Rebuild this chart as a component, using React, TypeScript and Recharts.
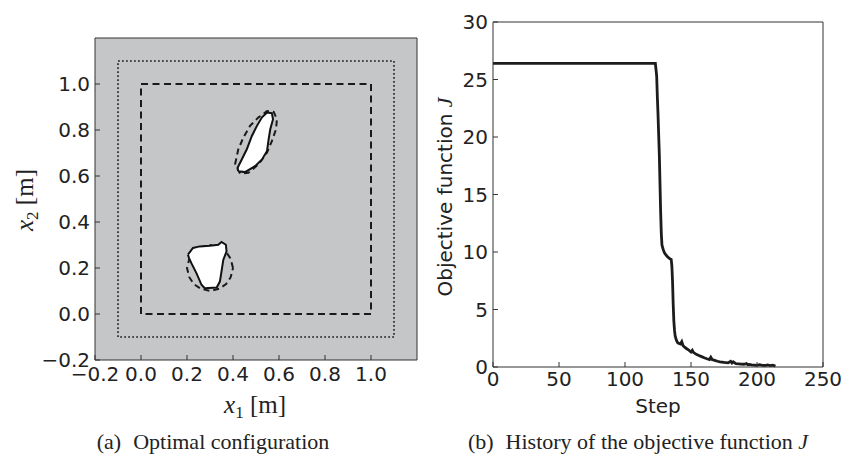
import {
  Line,
  LineChart,
  ReferenceArea,
  Scatter,
  ScatterChart,
  XAxis,
  YAxis
} from "recharts";

// (a) optimal configuration, coordinates in metres
const coordTicks = [-0.2, 0, 0.2, 0.4, 0.6, 0.8, 1.0];
const coordDomain = [-0.2, 1.2];
const designBox = [0, 1];
const outerBox = [-0.1, 1.1];

const upperBlob = [
  { x: 0.423, y: 0.621 },
  { x: 0.452, y: 0.617 },
  { x: 0.496, y: 0.643 },
  { x: 0.526, y: 0.672 },
  { x: 0.548, y: 0.709 },
  { x: 0.555, y: 0.76 },
  { x: 0.562, y: 0.803 },
  { x: 0.574, y: 0.847 },
  { x: 0.569, y: 0.873 },
  { x: 0.548, y: 0.876 },
  { x: 0.526, y: 0.855 },
  { x: 0.504, y: 0.818 },
  { x: 0.482, y: 0.774 },
  { x: 0.46, y: 0.716 },
  { x: 0.438, y: 0.672 },
  { x: 0.42, y: 0.636 },
  { x: 0.423, y: 0.621 }
];

const upperTarget = [
  { x: 0.409, y: 0.651 },
  { x: 0.423, y: 0.716 },
  { x: 0.445, y: 0.767 },
  { x: 0.474, y: 0.818 },
  { x: 0.511, y: 0.855 },
  { x: 0.548, y: 0.882 },
  { x: 0.577, y: 0.879 },
  { x: 0.591, y: 0.847 },
  { x: 0.587, y: 0.803 },
  { x: 0.569, y: 0.752 },
  { x: 0.548, y: 0.702 },
  { x: 0.511, y: 0.651 },
  { x: 0.467, y: 0.614 },
  { x: 0.431, y: 0.611 },
  { x: 0.409, y: 0.651 }
];

const lowerBlob = [
  { x: 0.204, y: 0.258 },
  { x: 0.226, y: 0.287 },
  { x: 0.255, y: 0.294 },
  { x: 0.299, y: 0.297 },
  { x: 0.336, y: 0.301 },
  { x: 0.35, y: 0.313 },
  { x: 0.369, y: 0.301 },
  { x: 0.372, y: 0.272 },
  { x: 0.358, y: 0.236 },
  { x: 0.35, y: 0.185 },
  { x: 0.343, y: 0.141 },
  { x: 0.329, y: 0.115 },
  { x: 0.277, y: 0.112 },
  { x: 0.263, y: 0.127 },
  { x: 0.241, y: 0.178 },
  { x: 0.219, y: 0.221 },
  { x: 0.209, y: 0.243 },
  { x: 0.204, y: 0.258 }
];

const lowerTarget = [
  { x: 0.4, y: 0.2 },
  { x: 0.39, y: 0.24 },
  { x: 0.37, y: 0.27 },
  { x: 0.34, y: 0.29 },
  { x: 0.3, y: 0.3 },
  { x: 0.26, y: 0.29 },
  { x: 0.23, y: 0.27 },
  { x: 0.21, y: 0.24 },
  { x: 0.2, y: 0.2 },
  { x: 0.21, y: 0.16 },
  { x: 0.23, y: 0.13 },
  { x: 0.26, y: 0.11 },
  { x: 0.3, y: 0.1 },
  { x: 0.34, y: 0.11 },
  { x: 0.37, y: 0.13 },
  { x: 0.39, y: 0.16 },
  { x: 0.4, y: 0.2 }
];

// (b) objective function history
const steps = [
  0, 123, 124, 124.5, 125, 126, 127, 127.5, 128, 129, 130, 132, 134, 135, 135.5, 136, 136.5, 137,
  137.5, 138, 139, 140, 141, 142, 143, 144, 146, 148, 150, 151, 152, 154, 156, 158, 160, 162, 164,
  165, 166, 168, 170, 172, 175, 178, 180, 181, 182, 184, 186, 188, 190, 192, 193, 194, 196, 198,
  200, 202, 204, 206, 208, 210, 212, 214
];
const jValues = [
  26.4, 26.4, 25.3, 23.5, 22.0, 18.5, 13.5, 11.6, 10.6, 10.2, 9.9, 9.6, 9.4, 9.35, 8.8, 7.5, 5.5,
  4.0, 3.2, 2.7, 2.3, 2.1, 2.05, 2.0, 2.2, 1.85, 1.65, 1.5, 1.3, 1.45, 1.25, 1.1, 1.0, 0.9, 0.8,
  0.72, 0.65, 0.85, 0.65, 0.58, 0.5, 0.45, 0.4, 0.36, 0.5, 0.35, 0.45, 0.3, 0.28, 0.25, 0.24, 0.3,
  0.2, 0.22, 0.18, 0.17, 0.15, 0.2, 0.14, 0.13, 0.18, 0.12, 0.15, 0.08
];
const stepTicks = [0, 50, 100, 150, 200, 250];
const jTicks = [0, 5, 10, 15, 20, 25, 30];

const history = steps.map((step, i) => ({ step, J: jValues[i] }));

const frame = "#333";
const tickFont = { fill: "#222", fontSize: 20, fontFamily: "DejaVu Sans" };
const serif = "Liberation Serif";

const fmtCoord = (v: number) => (v < 0 ? "\u2212" : "") + Math.abs(v).toFixed(1);
const noMark = () => <g />;

function ConfigPanel() {
  return (
    <ScatterChart width={420} height={425} margin={{ top: 37, right: 2, bottom: 0, left: 0 }}>
      <XAxis
        type="number"
        dataKey="x"
        domain={coordDomain}
        ticks={coordTicks}
        tickFormatter={fmtCoord}
        height={65}
        tickSize={-5}
        tickMargin={12}
        tick={tickFont}
        stroke={frame}
      />
      <XAxis
        xAxisId="top"
        orientation="top"
        type="number"
        domain={coordDomain}
        ticks={coordTicks}
        height={1}
        tickSize={-5}
        tick={false}
        stroke={frame}
      />
      <YAxis
        type="number"
        dataKey="y"
        domain={coordDomain}
        ticks={coordTicks}
        tickFormatter={fmtCoord}
        width={95}
        tickSize={-5}
        tickMargin={10}
        tick={tickFont}
        stroke={frame}
      />
      <YAxis
        yAxisId="right"
        orientation="right"
        type="number"
        domain={coordDomain}
        ticks={coordTicks}
        width={1}
        tickSize={-5}
        tick={false}
        stroke={frame}
      />
      <ReferenceArea
        x1={coordDomain[0]}
        x2={coordDomain[1]}
        y1={coordDomain[0]}
        y2={coordDomain[1]}
        fill="#c5c6c8"
        fillOpacity={1}
        stroke="none"
      />
      <ReferenceArea
        x1={outerBox[0]}
        x2={outerBox[1]}
        y1={outerBox[0]}
        y2={outerBox[1]}
        fill="none"
        stroke="#222"
        strokeWidth={1.6}
        strokeDasharray="1.8 2.2"
      />
      <ReferenceArea
        x1={designBox[0]}
        x2={designBox[1]}
        y1={designBox[0]}
        y2={designBox[1]}
        fill="none"
        stroke="#1a1a1a"
        strokeWidth={2}
        strokeDasharray="7 4.5"
      />
      <Scatter
        data={upperTarget}
        fill="none"
        line={{ stroke: "#1a1a1a", strokeWidth: 2, strokeDasharray: "6 4", fill: "none" }}
        lineType="joint"
        shape={noMark}
        isAnimationActive={false}
      />
      <Scatter
        data={lowerTarget}
        fill="none"
        line={{ stroke: "#1a1a1a", strokeWidth: 2, strokeDasharray: "6 4", fill: "none" }}
        lineType="joint"
        shape={noMark}
        isAnimationActive={false}
      />
      <Scatter
        data={upperBlob}
        fill="none"
        line={{ stroke: "#111", strokeWidth: 2, fill: "#ffffff" }}
        lineType="joint"
        shape={noMark}
        isAnimationActive={false}
      />
      <Scatter
        data={lowerBlob}
        fill="none"
        line={{ stroke: "#111", strokeWidth: 2, fill: "#ffffff" }}
        lineType="joint"
        shape={noMark}
        isAnimationActive={false}
      />
    </ScatterChart>
  );
}

function HistoryPanel() {
  return (
    <LineChart
      width={423}
      height={425}
      data={history}
      margin={{ top: 21, right: 19, bottom: 0, left: 0 }}
    >
      <XAxis
        type="number"
        dataKey="step"
        domain={[0, 250]}
        ticks={stepTicks}
        height={58}
        tickSize={-5}
        tickMargin={10}
        tick={tickFont}
        stroke={frame}
      />
      <XAxis
        xAxisId="top"
        orientation="top"
        type="number"
        domain={[0, 250]}
        ticks={stepTicks}
        height={1}
        tickSize={-5}
        tick={false}
        stroke={frame}
      />
      <YAxis
        type="number"
        domain={[0, 30]}
        ticks={jTicks}
        width={73}
        tickSize={-5}
        tickMargin={10}
        tick={tickFont}
        stroke={frame}
      />
      <YAxis
        yAxisId="right"
        orientation="right"
        type="number"
        domain={[0, 30]}
        ticks={jTicks}
        width={1}
        tickSize={-5}
        tick={false}
        stroke={frame}
      />
      <Line
        type="linear"
        dataKey="J"
        stroke="#1c1c1c"
        strokeWidth={2.8}
        dot={false}
        isAnimationActive={false}
      />
    </LineChart>
  );
}

export default function App() {
  return (
    <div style={{ position: "absolute", left: 0, top: 0, width: 843, height: 455, background: "#fff" }}>
      <div style={{ position: "absolute", left: 0, top: 0 }}>
        <ConfigPanel />
      </div>
      <div style={{ position: "absolute", left: 420, top: 0 }}>
        <HistoryPanel />
      </div>
      <svg
        width={843}
        height={455}
        style={{ position: "absolute", left: 0, top: 0, pointerEvents: "none" }}
      >
        <text x={255} y={413} textAnchor="middle" fontFamily={serif} fontSize={25} fill="#222">
          <tspan fontStyle="italic">x</tspan>
          <tspan fontSize={17} dy={5}>1</tspan>
          <tspan dy={-5}> [m]</tspan>
        </text>
        <text
          x={33}
          y={200}
          transform="rotate(-90 33 200)"
          textAnchor="middle"
          fontFamily={serif}
          fontSize={25}
          fill="#222"
        >
          <tspan fontStyle="italic">x</tspan>
          <tspan fontSize={17} dy={5}>2</tspan>
          <tspan dy={-5}> [m]</tspan>
        </text>
        <text x={658} y={413} textAnchor="middle" fontFamily="DejaVu Sans" fontSize={20} fill="#222">
          Step
        </text>
        <text
          x={452}
          y={197}
          transform="rotate(-90 452 197)"
          textAnchor="middle"
          fontFamily="DejaVu Sans"
          fontSize={20}
          fill="#222"
        >
          Objective function{" "}
          <tspan fontFamily={serif} fontStyle="italic" fontSize={22}>J</tspan>
        </text>
        <text x={213} y={449} textAnchor="middle" fontFamily={serif} fontSize={22} fill="#222">
          (a)<tspan dx={12}>Optimal configuration</tspan>
        </text>
        <text x={638} y={449} textAnchor="middle" fontFamily={serif} fontSize={22} fill="#222">
          (b)<tspan dx={12}>History of the objective function </tspan>
          <tspan fontStyle="italic">J</tspan>
        </text>
      </svg>
    </div>
  );
}
